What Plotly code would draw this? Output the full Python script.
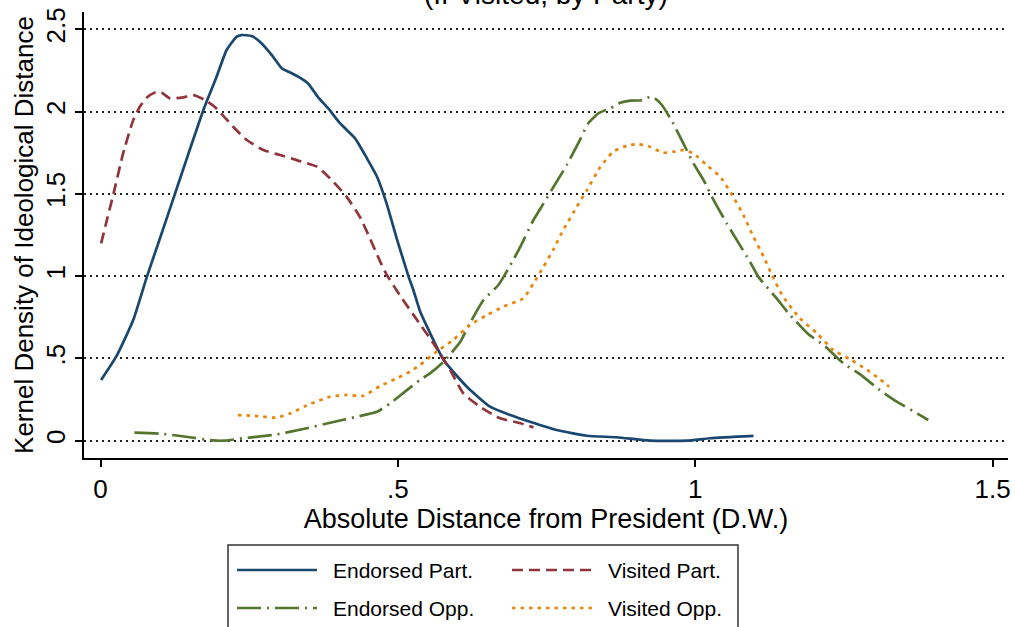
import plotly.graph_objects as go

# Kernel density curves of ideological distance from the president
endorsed_part_x = [0.001, 0.027, 0.055, 0.078, 0.099, 0.114, 0.148, 0.173, 0.195, 0.212,
                   0.229, 0.237, 0.254, 0.268, 0.288, 0.305, 0.316, 0.333, 0.349, 0.366,
                   0.383, 0.403, 0.428, 0.448, 0.465, 0.481, 0.498, 0.518, 0.526,
                   0.537, 0.549, 0.577, 0.616, 0.655, 0.689, 0.722, 0.767, 0.818, 0.868,
                   0.924, 0.986, 1.025, 1.098]
endorsed_part_y = [0.369, 0.515, 0.733, 0.997, 1.22, 1.38, 1.746, 2.01, 2.21, 2.374,
                   2.455, 2.465, 2.459, 2.424, 2.343, 2.262, 2.242, 2.211, 2.171, 2.086,
                   2.019, 1.928, 1.837, 1.716, 1.604, 1.442, 1.23, 0.997, 0.916,
                   0.79, 0.693, 0.49, 0.328, 0.207, 0.156, 0.115, 0.065, 0.030, 0.021,
                   0.0, 0.0, 0.015, 0.029]

visited_part_x = [0.001, 0.012, 0.022, 0.038, 0.055, 0.066, 0.078, 0.094, 0.103, 0.117,
                  0.139, 0.156, 0.176, 0.195, 0.223, 0.246, 0.274, 0.302, 0.330, 0.364,
                  0.386, 0.414, 0.436, 0.453, 0.470, 0.481, 0.504, 0.532, 0.560,
                  0.588, 0.610, 0.638, 0.672, 0.706, 0.728]
visited_part_y = [1.199, 1.36, 1.503, 1.746, 1.948, 2.029, 2.086, 2.12, 2.114, 2.08,
                  2.086, 2.10, 2.07, 2.019, 1.908, 1.827, 1.766, 1.736, 1.705, 1.665,
                  1.594, 1.482, 1.361, 1.23, 1.09, 1.01, 0.88, 0.735, 0.59,
                  0.43, 0.288, 0.207, 0.136, 0.106, 0.081]

endorsed_opp_x = [0.057, 0.106, 0.150, 0.184, 0.206, 0.240, 0.291, 0.341, 0.386, 0.431,
                  0.465, 0.487, 0.512, 0.537, 0.554, 0.577, 0.605, 0.621, 0.644, 0.669,
                  0.694, 0.706, 0.728, 0.745, 0.767, 0.784, 0.806, 0.820, 0.837, 0.857,
                  0.874, 0.891, 0.913, 0.924, 0.932, 0.944, 0.963, 0.980, 0.997, 1.014,
                  1.031, 1.053, 1.070, 1.092, 1.106, 1.137, 1.157, 1.190, 1.216, 1.249,
                  1.275, 1.314, 1.339, 1.378, 1.392]
endorsed_opp_y = [0.049, 0.041, 0.021, 0.004, 0.0, 0.015, 0.035, 0.071, 0.109, 0.146,
                  0.176, 0.227, 0.298, 0.369, 0.409, 0.48, 0.601, 0.713, 0.855, 0.946,
                  1.098, 1.179, 1.341, 1.442, 1.574, 1.675, 1.827, 1.928, 1.989, 2.019,
                  2.053, 2.066, 2.07, 2.09, 2.08, 2.04, 1.928, 1.807, 1.685, 1.584,
                  1.462, 1.321, 1.219, 1.088, 0.997, 0.865, 0.774, 0.648, 0.581, 0.47,
                  0.409, 0.298, 0.237, 0.156, 0.126]

visited_opp_x = [0.231, 0.263, 0.296, 0.319, 0.352, 0.386, 0.414, 0.442, 0.470, 0.498,
                 0.520, 0.537, 0.565, 0.593, 0.621, 0.650, 0.677, 0.711, 0.728, 0.745,
                 0.761, 0.778, 0.801, 0.818, 0.840, 0.862, 0.885, 0.904, 0.924, 0.946,
                 0.963, 0.980, 0.997, 1.019, 1.042, 1.064, 1.081, 1.098, 1.115, 1.129,
                 1.148, 1.176, 1.205, 1.232, 1.261, 1.289, 1.311, 1.326]
visited_opp_y = [0.156, 0.15, 0.14, 0.166, 0.223, 0.267, 0.278, 0.273, 0.332, 0.379,
                 0.419, 0.46, 0.541, 0.612, 0.703, 0.764, 0.814, 0.865, 0.956, 1.057,
                 1.159, 1.28, 1.422, 1.523, 1.661, 1.756, 1.792, 1.802, 1.786, 1.75,
                 1.756, 1.766, 1.746, 1.675, 1.604, 1.482, 1.371, 1.239, 1.118, 1.007,
                 0.875, 0.744, 0.652, 0.551, 0.494, 0.43, 0.373, 0.328]

x_ticks = [0, 0.5, 1, 1.5]
x_tick_labels = ["0", ".5", "1", "1.5"]
y_ticks = [0, 0.5, 1, 1.5, 2, 2.5]
y_tick_labels = ["0", ".5", "1", "1.5", "2", "2.5"]

series = [
    ("Endorsed Part.", endorsed_part_x, endorsed_part_y, "#1a476f", "solid"),
    ("Visited Part.", visited_part_x, visited_part_y, "#90353b", "11px,6px"),
    ("Endorsed Opp.", endorsed_opp_x, endorsed_opp_y, "#55752f", "24px,6px,2px,6px"),
    ("Visited Opp.", visited_opp_x, visited_opp_y, "#e8850c", "3.5px,5px"),
]

FONT = "Liberation Sans, Arial, Helvetica, sans-serif"
W, H = 1015, 627
L, R, T, B = 84, 7, 12, 169
plot_w, plot_h = W - L - R, H - T - B


def px_x(p):
    return (p - L) / plot_w


def px_y(p):
    return (H - B - p) / plot_h


fig = go.Figure()
for name, xs, ys, color, dash in series:
    fig.add_trace(go.Scatter(
        x=xs, y=ys, mode="lines", name=name, showlegend=False,
        line=dict(color=color, width=2.7, dash=dash, shape="spline", smoothing=0.5),
    ))

# Boxed legend below the plot, two columns
legend_shapes = [dict(type="rect", xref="paper", yref="paper",
                      x0=px_x(228), x1=px_x(738), y0=px_y(545), y1=px_y(660),
                      line=dict(color="#333333", width=1.5), fillcolor="white", layer="below")]
legend_annots = []
slots = [(237, 331, 570), (512, 606, 570), (237, 331, 608), (512, 606, 608)]
for (name, _, _, color, dash), (lx, tx, ly) in zip(series, slots):
    legend_shapes.append(dict(type="line", xref="paper", yref="paper",
                              x0=px_x(lx), x1=px_x(lx + 80), y0=px_y(ly), y1=px_y(ly),
                              line=dict(color=color, width=2.7, dash=dash)))
    legend_annots.append(dict(text=name, xref="paper", yref="paper", x=px_x(tx), y=px_y(ly),
                              xanchor="left", yanchor="middle", showarrow=False,
                              font=dict(family=FONT, size=21, color="black")))

legend_annots.append(dict(text="(If Visited, by Party)", xref="paper", yref="paper",
                          x=0.5, y=px_y(-6), xanchor="center", yanchor="middle",
                          showarrow=False, font=dict(family=FONT, size=28, color="black")))

fig.update_layout(
    width=W, height=H,
    margin=dict(l=L, r=R, t=T, b=B, autoexpand=False),
    paper_bgcolor="white", plot_bgcolor="white",
    font=dict(family=FONT, size=26, color="black"),
    shapes=legend_shapes, annotations=legend_annots,
    xaxis=dict(range=[-0.0278, 1.526], tickvals=x_ticks, ticktext=x_tick_labels,
               showgrid=False, zeroline=False, showline=True, linecolor="black", linewidth=1.5,
               ticks="outside", ticklen=7, tickwidth=1.5, tickcolor="black",
               tickfont=dict(size=26),
               title=dict(text="Absolute Distance from President (D.W.)",
                          font=dict(size=27), standoff=2)),
    yaxis=dict(range=[-0.105, 2.605], tickvals=y_ticks, ticktext=y_tick_labels,
               tickangle=-90, showgrid=True, gridcolor="#222222", gridwidth=1.5,
               griddash="1.5px,4.5px", zeroline=False, showline=True, linecolor="black",
               linewidth=1.5, ticks="outside", ticklen=7, tickwidth=1.5, tickcolor="black",
               tickfont=dict(size=26),
               title=dict(text="Kernel Density of Ideological Distance",
                          font=dict(size=26), standoff=0)),
)

fig.write_html("out.html")
